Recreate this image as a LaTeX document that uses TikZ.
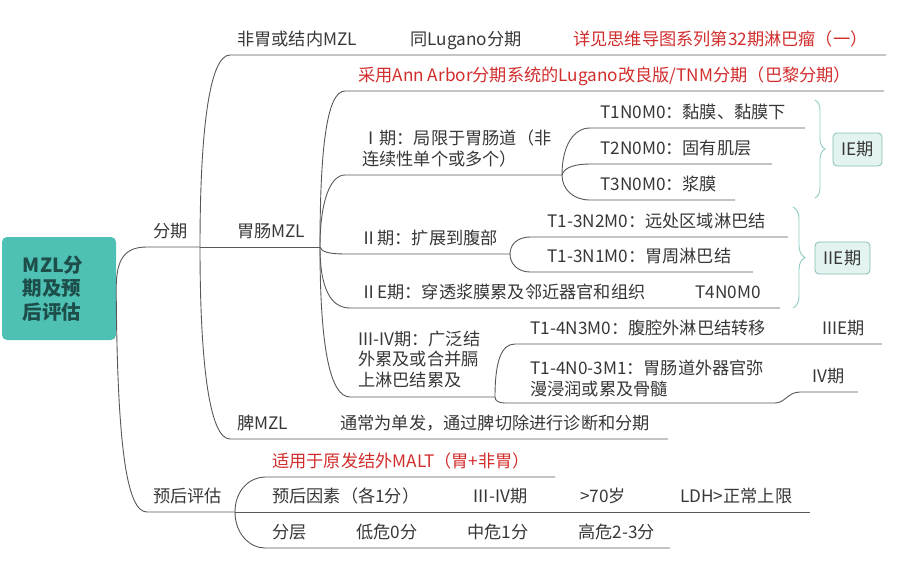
\documentclass[tikz,border=0pt]{standalone}
\usepackage{fontspec}
\setmainfont{Noto Sans CJK SC}
\usetikzlibrary{decorations.pathreplacing}

\definecolor{rootfill}{RGB}{78,192,180}
\definecolor{roottext}{RGB}{30,78,74}
\definecolor{linegray}{RGB}{88,88,88}
\definecolor{textgray}{RGB}{55,55,55}
\definecolor{notered}{RGB}{210,45,45}
\definecolor{bracecol}{RGB}{140,205,195}
\definecolor{tagfill}{RGB}{226,243,240}
\definecolor{tagline}{RGB}{130,190,180}

\tikzset{
  topic/.style={anchor=base west, inner sep=0pt, align=left, text=textgray,
    font=\fontsize{17.2}{20.5}\selectfont},
  note/.style={topic, text=notered},
  branch/.style={draw=linegray, line width=0.9pt},
  curly/.style={draw=bracecol, line width=0.9pt, decorate,
    decoration={brace, amplitude=10pt}},
  tagbox/.style={draw=tagline, fill=tagfill, rounded corners=4pt, line width=0.8pt,
    inner sep=0pt, text=textgray, font=\fontsize{17.2}{20.5}\selectfont},
}

\begin{document}
\begin{tikzpicture}[x=1pt,y=-1pt]

  \useasboundingbox (0,0) rectangle (923,571);

  \node[fill=rootfill, rounded corners=5pt, minimum width=114, minimum height=103,
    inner sep=0pt, text width=72, align=left, text=roottext,
    font=\fontsize{19.5}{23.5}\selectfont\bfseries] (root) at (59,288.5) {MZL分\\期及预\\后评估};

  \coordinate (fq-a) at (147,247);  \coordinate (fq-b) at (200,247);
  \coordinate (yh-a) at (147,512);  \coordinate (yh-b) at (235,512);
  \coordinate (fw-a) at (230,55);   \coordinate (fw-b) at (395,55);
  \coordinate (tl-b) at (560,55);   \coordinate (xj-b) at (886,55);
  \coordinate (wc-b) at (320,247);
  \coordinate (pi-a) at (230,439);  \coordinate (pi-b) at (330,439);
  \coordinate (pi2-b) at (668,439);
  \coordinate (aa-a) at (345,91);   \coordinate (aa-b) at (884,91);
  \coordinate (s1-a) at (345,175);  \coordinate (s1-b) at (562,175);
  \coordinate (s2-a) at (345,254);  \coordinate (s2-b) at (510,254);
  \coordinate (s2e-a) at (350,308); \coordinate (s2e-b) at (680,308);
  \coordinate (t4-b) at (780,308);
  \coordinate (s34-a) at (350,397); \coordinate (s34-b) at (495,397);
  \coordinate (t1-a) at (590,128);  \coordinate (t1-b) at (805,128);
  \coordinate (t2-a) at (590,164);  \coordinate (t2-b) at (772,164);
  \coordinate (t3-a) at (590,200);  \coordinate (t3-b) at (735,200);
  \coordinate (n2-a) at (530,237);  \coordinate (n2-b) at (788,237);
  \coordinate (n1-a) at (530,272);  \coordinate (n1-b) at (753,272);
  \coordinate (n3-a) at (515,344);  \coordinate (n3-b) at (805,344);
  \coordinate (s3e-b) at (882,344);
  \coordinate (m1-a) at (505,403);  \coordinate (m1-b) at (775,403);
  \coordinate (s4-a) at (800,392);  \coordinate (s4-b) at (858,392);
  \coordinate (mt-a) at (265,477);  \coordinate (mt-b) at (555,477);
  \coordinate (yy-a) at (265,512);  \coordinate (yy-b) at (455,512);
  \coordinate (f1-b) at (565,512);  \coordinate (f2-b) at (665,512);
  \coordinate (f3-b) at (810,512);
  \coordinate (fc-a) at (265,548);  \coordinate (fc-b) at (340,548);
  \coordinate (r0-b) at (450,548);  \coordinate (r1-b) at (565,548);
  \coordinate (r2-b) at (670,548);

  \node[topic] (fq) at (153,237) {分期};
  \node[topic] (yh) at (153,502) {预后评估};
  \node[topic] (fw) at (237,45) {非胃或结内MZL};
  \node[topic] (tl) at (410,45) {同Lugano分期};
  \node[note] (xj) at (573,45) {详见思维导图系列第32期淋巴瘤（一）};
  \node[topic] (wc) at (237,237) {胃肠MZL};
  \node[topic] (pi) at (237,429) {脾MZL};
  \node[topic] (pi2) at (340,429) {通常为单发，通过脾切除进行诊断和分期};
  \node[note] (aa) at (358,81) {采用Ann Arbor分期系统的Lugano改良版/TNM分期（巴黎分期）};
  \node[topic] (s1) at (362,165) {Ⅰ期：局限于胃肠道（非\\连续性单个或多个）};
  \node[topic] (s2) at (360,244) {Ⅱ期：扩展到腹部};
  \node[topic] (s2e) at (360,298) {ⅡE期：穿透浆膜累及邻近器官和组织};
  \node[topic] (t4) at (695,298) {T4N0M0};
  \node[topic] (s34) at (358,386) {III-IV期：广泛结\\外累及或合并膈\\上淋巴结累及};
  \node[topic] (t1) at (600,118) {T1N0M0：黏膜、黏膜下};
  \node[topic] (t2) at (600,154) {T2N0M0：固有肌层};
  \node[topic] (t3) at (600,190) {T3N0M0：浆膜};
  \node[topic] (n2) at (547,227) {T1-3N2M0：远处区域淋巴结};
  \node[topic] (n1) at (547,262) {T1-3N1M0：胃周淋巴结};
  \node[topic] (n3) at (530,334) {T1-4N3M0：腹腔外淋巴结转移};
  \node[topic] (s3e) at (822,334) {IIIE期};
  \node[topic] (m1) at (530,395) {T1-4N0-3M1：胃肠道外器官弥\\漫浸润或累及骨髓};
  \node[topic] (s4) at (812,382) {IV期};
  \node[note] (mt) at (272,467) {适用于原发结外MALT（胃+非胃）};
  \node[topic] (yy) at (272,502) {预后因素（各1分）};
  \node[topic] (f1) at (472,502) {Ⅲ-IV期};
  \node[topic] (f2) at (580,502) {>70岁};
  \node[topic] (f3) at (680,502) {LDH>正常上限};
  \node[topic] (fc) at (272,538) {分层};
  \node[topic] (r0) at (356,538) {低危0分};
  \node[topic] (r1) at (467,538) {中危1分};
  \node[topic] (r2) at (578,538) {高危2-3分};

  \node[tagbox, minimum width=49, minimum height=33] (ie) at (857.5,149.5) {IE期};
  \node[tagbox, minimum width=55, minimum height=32] (iie) at (842.5,258) {IIE期};

  \draw[branch] (root.east) .. controls +(0,-30) and +(-22,0) .. (fq-a) -- (fq-b);
  \draw[branch] (root.east) .. controls +(1,160) and +(-20,0) .. (yh-a) -- (yh-b);

  \draw[branch] (fq-b) .. controls +(0,-120) and +(-20,0) .. (fw-a) -- (fw-b) -- (tl-b) -- (xj-b);
  \draw[branch] (fq-b) -- (wc-b);
  \draw[branch] (fq-b) .. controls +(0,120) and +(-20,0) .. (pi-a) -- (pi-b) -- (pi2-b);

  \draw[branch] (wc-b) .. controls +(0,-100) and +(-18,0) .. (aa-a) -- (aa-b);
  \draw[branch] (wc-b) .. controls +(0,-45) and +(-15,0) .. (s1-a) -- (s1-b);
  \draw[branch] (wc-b) .. controls +(1,5) and +(-15,0) .. (s2-a) -- (s2-b);
  \draw[branch] (wc-b) .. controls +(0,40) and +(-20,0) .. (s2e-a) -- (s2e-b) -- (t4-b);
  \draw[branch] (wc-b) .. controls +(0,100) and +(-20,0) .. (s34-a) -- (s34-b);

  \draw[branch] (s1-b) .. controls +(0,-30) and +(-16,0) .. (t1-a) -- (t1-b);
  \draw[branch] (s1-b) .. controls +(2,-8) and +(-14,0) .. (t2-a) -- (t2-b);
  \draw[branch] (s1-b) .. controls +(0,15) and +(-16,0) .. (t3-a) -- (t3-b);

  \draw[branch] (s2-b) .. controls +(0,-10) and +(-12,0) .. (n2-a) -- (n2-b);
  \draw[branch] (s2-b) .. controls +(0,10) and +(-12,0) .. (n1-a) -- (n1-b);

  \draw[branch] (s34-b) .. controls +(0,-35) and +(-14,0) .. (n3-a) -- (n3-b) -- (s3e-b);
  \draw[branch] (s34-b) .. controls +(0,4) and +(-6,0) .. (m1-a) -- (m1-b);
  \draw[branch] (m1-b) .. controls +(10,0) and +(-12,0) .. (s4-a) -- (s4-b);

  \draw[branch] (yh-b) .. controls +(0,-22) and +(-15,0) .. (mt-a) -- (mt-b);
  \draw[branch] (yh-b) -- (yy-a) -- (yy-b) -- (f1-b) -- (f2-b) -- (f3-b);
  \draw[branch] (yh-b) .. controls +(0,22) and +(-15,0) .. (fc-a) -- (fc-b) -- (r0-b) -- (r1-b) -- (r2-b);

  \draw[curly] (815,100) -- (815,198);
  \draw[curly, decoration={amplitude=12pt}] (793,207) -- (793,308);

\end{tikzpicture}
\end{document}
